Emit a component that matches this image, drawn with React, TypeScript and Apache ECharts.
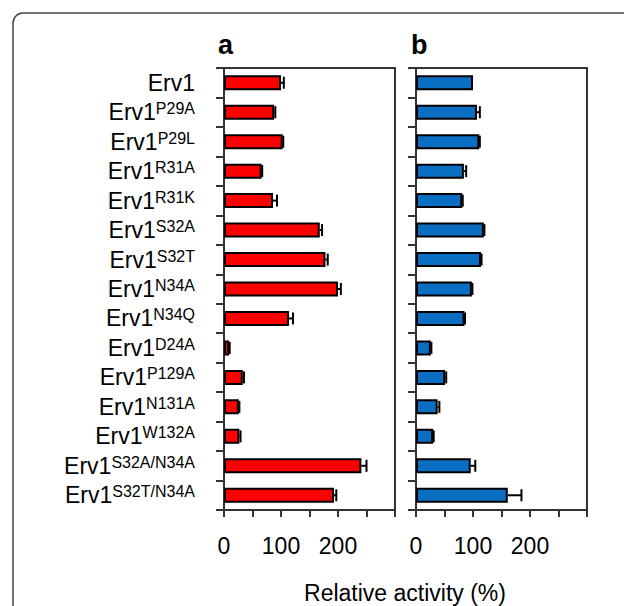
import React, { useEffect, useRef } from 'react';
import * as echarts from 'echarts';

const baseName = 'Erv1';
const variants = ['', 'P29A', 'P29L', 'R31A', 'R31K', 'S32A', 'S32T', 'N34A', 'N34Q', 'D24A', 'P129A', 'N131A', 'W132A', 'S32A/N34A', 'S32T/N34A'];
const categories = variants.map((v) => (v ? `${baseName} ${v}` : baseName));

const activityA = [100, 88, 103, 66, 86, 168, 178, 200, 114, 9, 33, 26, 27, 241, 193];
const errorA = [5, 2, 1, 1, 7, 4, 4, 5, 7, 1, 2, 1, 2, 9, 4];
const activityB = [100, 107, 111, 84, 81, 119, 114, 98, 85, 26, 51, 38, 30, 96, 161];
const errorB = [0, 5, 1, 4, 1, 1, 1, 1, 1, 1, 2, 3, 1, 8, 24];
const shownTicks = [0, 100, 200];

const FONT = 'Liberation Sans, Arial, Helvetica, sans-serif';
const AXIS = '#333';

export default function App() {
  const ref = useRef<HTMLDivElement>(null);
  useEffect(() => {
    const chart = echarts.init(ref.current!, null, { renderer: 'svg' });
    const errRender = (params: any, api: any) => {
      const v = api.value(0);
      const idx = api.value(1);
      const sd = api.value(2);
      if (!sd) return null;
      const p0 = api.coord([v, idx]);
      const p1 = api.coord([v + sd, idx]);
      const h = 6;
      const st = { stroke: '#000', lineWidth: 2 };
      return {
        type: 'group',
        children: [
          { type: 'line', shape: { x1: p0[0], y1: p0[1], x2: p1[0], y2: p1[1] }, style: st },
          { type: 'line', shape: { x1: p1[0], y1: p1[1] - h, x2: p1[0], y2: p1[1] + h }, style: st },
        ],
      };
    };
    const yAxisBase = (gi: number, labels: boolean) => ({
      type: 'category',
      gridIndex: gi,
      data: categories,
      inverse: true,
      axisLine: { show: true, lineStyle: { color: AXIS, width: 2 } },
      axisTick: { show: true, length: 8, lineStyle: { color: AXIS, width: 2 } },
      splitLine: { show: false },
      axisLabel: labels
        ? {
            margin: 29,
            formatter: (_v: string, i: number) =>
              `{m|${baseName}}` + (variants[i] ? `{s|${variants[i]}}` : ''),
            rich: {
              m: { fontSize: 23, fontFamily: FONT, color: '#000', lineHeight: 23 },
              s: { fontSize: 16, fontFamily: FONT, color: '#000', lineHeight: 16, verticalAlign: 'top' },
            },
          }
        : { show: false },
    });
    const xAxisBase = (gi: number) => ({
      type: 'value',
      gridIndex: gi,
      min: 0,
      max: 300,
      interval: 50,
      splitLine: { show: false },
      axisLine: { show: true, lineStyle: { color: AXIS, width: 2 } },
      axisTick: { show: true, length: 7, lineStyle: { color: AXIS, width: 2 } },
      axisLabel: {
        margin: 24,
        fontSize: 23,
        fontFamily: FONT,
        color: '#000',
        formatter: (v: number) => (shownTicks.includes(v) ? String(v) : ''),
      },
    });
    const barStyle = (c: string) => ({ color: c, borderColor: '#000', borderWidth: 2 });
    chart.setOption({
      animation: false,
      backgroundColor: '#fff',
      grid: [
        { left: 224, top: 68, width: 171, height: 442, show: true, borderColor: AXIS, borderWidth: 2, backgroundColor: 'transparent' },
        { left: 416, top: 68, width: 171, height: 442, show: true, borderColor: AXIS, borderWidth: 2, backgroundColor: 'transparent' },
      ],
      xAxis: [xAxisBase(0), xAxisBase(1)],
      yAxis: [yAxisBase(0, true), yAxisBase(1, false)],
      series: [
        { type: 'bar', xAxisIndex: 0, yAxisIndex: 0, data: activityA, barWidth: 15, itemStyle: barStyle('#ff0000') },
        { type: 'bar', xAxisIndex: 1, yAxisIndex: 1, data: activityB, barWidth: 15, itemStyle: barStyle('#0a6ec2') },
        {
          type: 'custom', xAxisIndex: 0, yAxisIndex: 0, z: 5,
          encode: { x: 0, y: 1 },
          data: activityA.map((v, i) => [v, i, errorA[i]]),
          renderItem: errRender,
        },
        {
          type: 'custom', xAxisIndex: 1, yAxisIndex: 1, z: 5,
          encode: { x: 0, y: 1 },
          data: activityB.map((v, i) => [v, i, errorB[i]]),
          renderItem: errRender,
        },
      ],
      graphic: [
        { type: 'rect', shape: { x: 13, y: 13, width: 700, height: 700, r: 10 }, style: { fill: 'none', stroke: '#444', lineWidth: 1.5 }, silent: true },
        { type: 'text', x: 218, y: 45, style: { text: 'a', font: `bold 27px ${FONT}`, fill: '#000', textVerticalAlign: 'middle' } },
        { type: 'text', x: 411, y: 45, style: { text: 'b', font: `bold 27px ${FONT}`, fill: '#000', textVerticalAlign: 'middle' } },
        { type: 'text', x: 405, y: 593, style: { text: 'Relative activity (%)', font: `23px ${FONT}`, fill: '#000', textAlign: 'center', textVerticalAlign: 'middle' } },
      ],
    });
    return () => chart.dispose();
  }, []);
  return (
    <div
      ref={ref}
      style={{ position: 'fixed', left: 0, top: 0, width: 624, height: 606, background: '#fff' }}
    />
  );
}
